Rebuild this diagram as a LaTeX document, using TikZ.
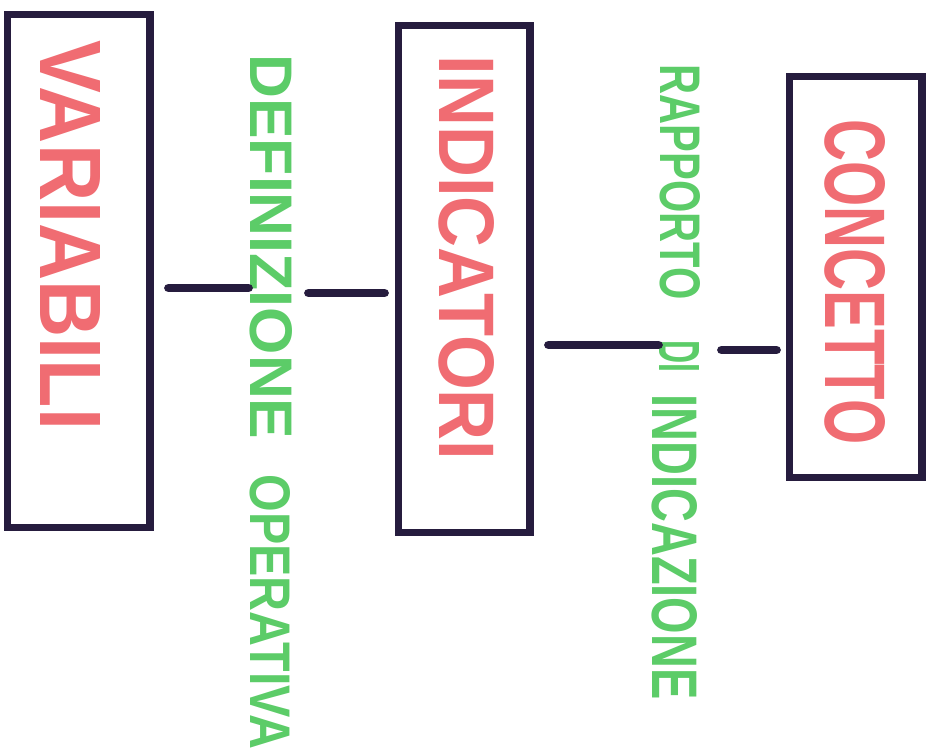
\documentclass[tikz,border=0pt]{standalone}
\usepackage{fontspec}
\setmainfont{Liberation Sans}
\usepackage{tikz}
\definecolor{marker}{RGB}{38,28,62}
\definecolor{rosso}{RGB}{240,108,114}
\definecolor{verde}{RGB}{92,204,104}
\newcommand{\scritta}[3]{\resizebox{#1}{#2}{\bfseries #3}}

\begin{document}
\begin{tikzpicture}[x=0.02cm,y=-0.02cm]
\tikzstyle{box}=[draw=marker,line width=4pt,inner sep=0pt];
\tikzstyle{concetto}=[text=rosso,rotate=-90,inner sep=0pt];
\tikzstyle{legame}=[text=verde,rotate=-90,inner sep=0pt];
\tikzstyle{link}=[draw=marker,line width=5pt,line cap=round];
\useasboundingbox[fill=white] (0,0) rectangle (948,755);

% riquadri
\node[box,minimum width=2.86cm,minimum height=10.28cm] (variabili) at (78.5,271) {};
\node[box,minimum width=2.64cm,minimum height=10.16cm] (indicatori) at (464,279) {};
\node[box,minimum width=2.66cm,minimum height=8.04cm] (concetto) at (855.5,277) {};

% scritte rosse
\node[concetto] (tvar) at (70,235) {\scritta{7.8cm}{1.2cm}{VARIABILI}};
\node[concetto] (tind) at (467,258) {\scritta{8.1cm}{1.1cm}{INDICATORI}};
\node[concetto] (tcon) at (855,282) {\scritta{6.5cm}{1.2cm}{CONCETTO}};

% scritte verdi
\node[legame] (def) at (271,247) {\scritta{7.7cm}{0.84cm}{DEFINIZIONE}};
\node[legame] (oper) at (270,612) {\scritta{5.5cm}{0.8cm}{OPERATIVA}};
\node[legame] (rapp) at (680,182) {\scritta{4.7cm}{0.8cm}{RAPPORTO}};
\node[legame] (di) at (679,356) {\scritta{0.64cm}{0.8cm}{DI}};
\node[legame] (indic) at (675,547) {\scritta{6.1cm}{0.9cm}{INDICAZIONE}};

% trattini
\draw[link] ([shift={(15,17)}]variabili.east) -- ++(80,0);
\draw[link] ([shift={(-10,14)}]indicatori.west) -- ++(-76,0);
\draw[link] ([shift={(15,66)}]indicatori.east) -- ++(110,0);
\draw[link] ([shift={(-9,73)}]concetto.west) -- ++(-55,0);
\end{tikzpicture}
\end{document}
